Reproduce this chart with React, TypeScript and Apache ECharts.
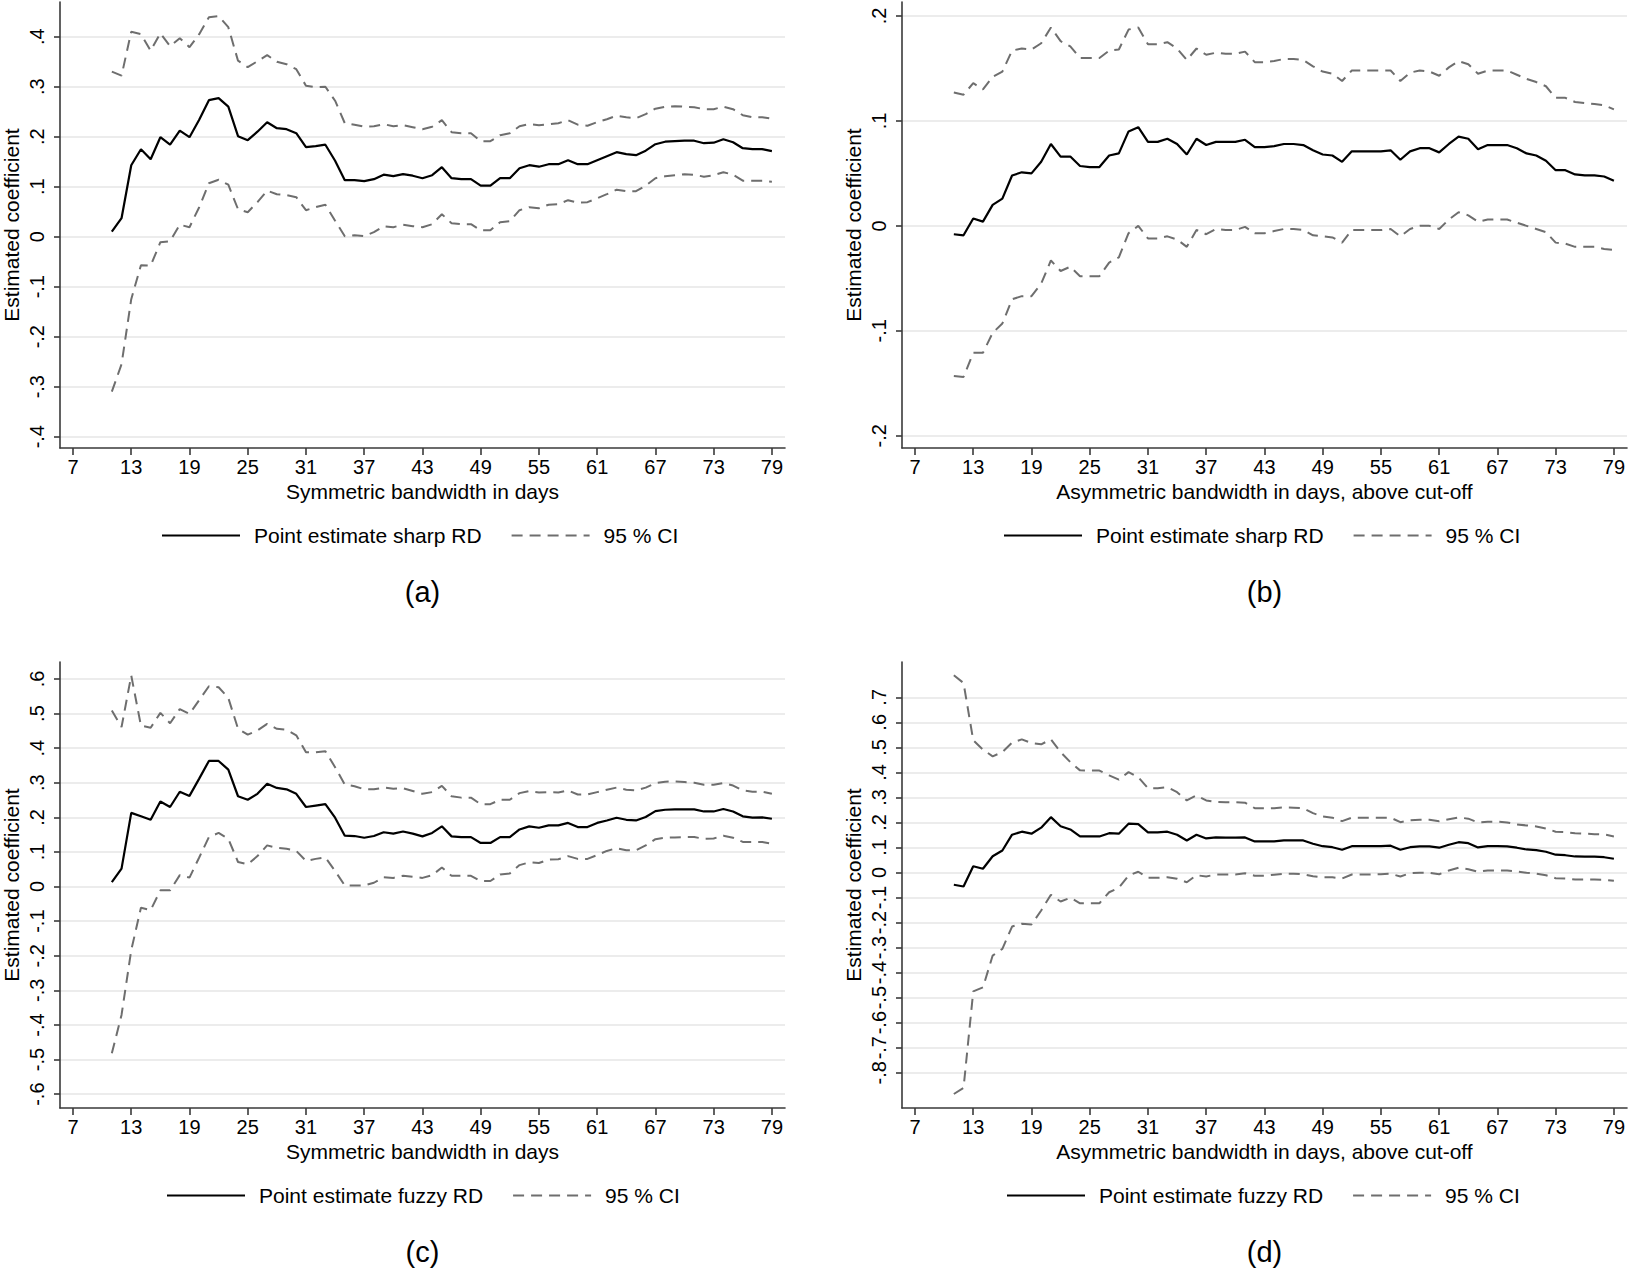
import React, { useEffect, useRef } from "react";
import * as echarts from "echarts";

const bandwidth = [11, 12, 13, 14, 15, 16, 17, 18, 19, 20, 21, 22, 23, 24, 25, 26, 27, 28, 29, 30, 31, 32, 33, 34, 35, 36, 37, 38, 39, 40, 41, 42, 43, 44, 45, 46, 47, 48, 49, 50, 51, 52, 53, 54, 55, 56, 57, 58, 59, 60, 61, 62, 63, 64, 65, 66, 67, 68, 69, 70, 71, 72, 73, 74, 75, 76, 77, 78, 79];
const xTicks = [7, 13, 19, 25, 31, 37, 43, 49, 55, 61, 67, 73, 79];
const yTicksA = [-0.4, -0.3, -0.2, -0.1, 0, 0.1, 0.2, 0.3, 0.4];
const yTicksB = [-0.2, -0.1, 0, 0.1, 0.2];
const yTicksC = [-0.6, -0.5, -0.4, -0.3, -0.2, -0.1, 0, 0.1, 0.2, 0.3, 0.4, 0.5, 0.6];
const yTicksD = [-0.8, -0.7, -0.6, -0.5, -0.4, -0.3, -0.2, -0.1, 0, 0.1, 0.2, 0.3, 0.4, 0.5, 0.6, 0.7];

// (a) sharp RD, symmetric bandwidth
const aPoint = [0.010, 0.037, 0.143, 0.175, 0.155, 0.199, 0.184, 0.212, 0.199, 0.234, 0.273, 0.277, 0.260, 0.201, 0.193, 0.210, 0.229, 0.217, 0.215, 0.207, 0.179, 0.181, 0.184, 0.152, 0.113, 0.113, 0.111, 0.115, 0.124, 0.121, 0.125, 0.122, 0.117, 0.123, 0.139, 0.117, 0.115, 0.115, 0.102, 0.102, 0.117, 0.117, 0.137, 0.143, 0.140, 0.145, 0.145, 0.153, 0.145, 0.145, 0.153, 0.161, 0.169, 0.165, 0.163, 0.172, 0.185, 0.190, 0.191, 0.192, 0.192, 0.187, 0.188, 0.195, 0.189, 0.177, 0.175, 0.175, 0.171];
const aUpper = [0.330, 0.322, 0.410, 0.405, 0.372, 0.407, 0.381, 0.397, 0.379, 0.405, 0.439, 0.441, 0.419, 0.352, 0.339, 0.351, 0.363, 0.350, 0.345, 0.335, 0.302, 0.299, 0.300, 0.272, 0.227, 0.224, 0.220, 0.221, 0.225, 0.221, 0.223, 0.219, 0.215, 0.220, 0.233, 0.209, 0.207, 0.207, 0.191, 0.191, 0.203, 0.207, 0.221, 0.225, 0.223, 0.225, 0.227, 0.233, 0.224, 0.222, 0.229, 0.235, 0.242, 0.239, 0.237, 0.245, 0.256, 0.260, 0.261, 0.260, 0.259, 0.255, 0.255, 0.260, 0.255, 0.243, 0.239, 0.239, 0.236];
const aLower = [-0.310, -0.255, -0.125, -0.057, -0.058, -0.011, -0.009, 0.024, 0.019, 0.059, 0.107, 0.114, 0.104, 0.055, 0.049, 0.069, 0.092, 0.085, 0.083, 0.079, 0.053, 0.059, 0.064, 0.032, 0.001, 0.003, 0.001, 0.009, 0.021, 0.019, 0.024, 0.021, 0.019, 0.025, 0.045, 0.027, 0.025, 0.025, 0.013, 0.013, 0.029, 0.031, 0.053, 0.059, 0.057, 0.064, 0.065, 0.073, 0.068, 0.069, 0.077, 0.085, 0.094, 0.091, 0.091, 0.102, 0.117, 0.121, 0.123, 0.125, 0.124, 0.120, 0.123, 0.129, 0.124, 0.112, 0.112, 0.112, 0.110];

// (b) sharp RD, asymmetric bandwidth
const bPoint = [-0.008, -0.009, 0.007, 0.004, 0.020, 0.026, 0.048, 0.051, 0.050, 0.061, 0.078, 0.066, 0.066, 0.057, 0.056, 0.056, 0.067, 0.069, 0.090, 0.094, 0.080, 0.080, 0.083, 0.078, 0.068, 0.083, 0.077, 0.080, 0.080, 0.080, 0.082, 0.075, 0.075, 0.076, 0.078, 0.078, 0.077, 0.072, 0.068, 0.067, 0.061, 0.071, 0.071, 0.071, 0.071, 0.072, 0.063, 0.071, 0.074, 0.074, 0.070, 0.078, 0.085, 0.083, 0.073, 0.077, 0.077, 0.077, 0.074, 0.069, 0.067, 0.062, 0.053, 0.053, 0.049, 0.048, 0.048, 0.047, 0.043];
const bUpper = [0.127, 0.125, 0.136, 0.130, 0.142, 0.147, 0.167, 0.169, 0.168, 0.174, 0.189, 0.176, 0.171, 0.160, 0.160, 0.160, 0.167, 0.168, 0.187, 0.189, 0.173, 0.173, 0.175, 0.169, 0.158, 0.169, 0.163, 0.165, 0.164, 0.164, 0.166, 0.156, 0.156, 0.157, 0.159, 0.159, 0.158, 0.152, 0.147, 0.145, 0.138, 0.148, 0.148, 0.148, 0.148, 0.148, 0.138, 0.146, 0.148, 0.147, 0.143, 0.151, 0.157, 0.154, 0.145, 0.148, 0.148, 0.148, 0.144, 0.140, 0.137, 0.133, 0.122, 0.122, 0.118, 0.117, 0.116, 0.115, 0.111];
const bLower = [-0.143, -0.144, -0.121, -0.121, -0.102, -0.093, -0.070, -0.067, -0.067, -0.055, -0.033, -0.043, -0.039, -0.048, -0.048, -0.048, -0.035, -0.030, -0.007, 0.000, -0.012, -0.012, -0.010, -0.013, -0.020, -0.004, -0.008, -0.003, -0.004, -0.004, -0.001, -0.007, -0.007, -0.005, -0.003, -0.003, -0.004, -0.009, -0.010, -0.011, -0.016, -0.004, -0.004, -0.004, -0.004, -0.003, -0.010, -0.003, 0.000, 0.000, -0.003, 0.006, 0.013, 0.010, 0.004, 0.006, 0.006, 0.006, 0.003, 0.000, -0.003, -0.006, -0.016, -0.017, -0.020, -0.020, -0.020, -0.022, -0.023];

// (c) fuzzy RD, symmetric bandwidth
const cPoint = [0.013, 0.052, 0.213, 0.203, 0.193, 0.246, 0.230, 0.274, 0.262, 0.312, 0.363, 0.363, 0.338, 0.261, 0.251, 0.268, 0.297, 0.285, 0.281, 0.268, 0.230, 0.234, 0.238, 0.199, 0.147, 0.146, 0.141, 0.146, 0.157, 0.153, 0.159, 0.153, 0.145, 0.155, 0.174, 0.145, 0.143, 0.143, 0.126, 0.126, 0.143, 0.143, 0.165, 0.174, 0.170, 0.177, 0.177, 0.184, 0.172, 0.172, 0.184, 0.191, 0.199, 0.193, 0.191, 0.201, 0.218, 0.222, 0.223, 0.223, 0.223, 0.217, 0.217, 0.224, 0.217, 0.203, 0.199, 0.200, 0.196];
const cUpper = [0.509, 0.461, 0.610, 0.465, 0.459, 0.502, 0.472, 0.513, 0.499, 0.539, 0.579, 0.576, 0.545, 0.456, 0.439, 0.451, 0.470, 0.456, 0.453, 0.437, 0.388, 0.388, 0.391, 0.345, 0.295, 0.290, 0.281, 0.281, 0.286, 0.283, 0.284, 0.276, 0.268, 0.273, 0.291, 0.261, 0.257, 0.257, 0.238, 0.238, 0.251, 0.251, 0.270, 0.276, 0.272, 0.273, 0.272, 0.278, 0.266, 0.266, 0.273, 0.280, 0.286, 0.280, 0.278, 0.286, 0.299, 0.303, 0.304, 0.302, 0.300, 0.294, 0.294, 0.299, 0.292, 0.278, 0.274, 0.274, 0.268];
const cLower = [-0.482, -0.371, -0.184, -0.061, -0.068, -0.011, -0.011, 0.033, 0.026, 0.084, 0.143, 0.155, 0.138, 0.071, 0.064, 0.088, 0.119, 0.112, 0.109, 0.103, 0.074, 0.080, 0.084, 0.045, 0.003, 0.003, 0.003, 0.011, 0.027, 0.025, 0.031, 0.028, 0.025, 0.033, 0.055, 0.031, 0.031, 0.031, 0.016, 0.016, 0.035, 0.038, 0.062, 0.070, 0.068, 0.078, 0.079, 0.088, 0.080, 0.080, 0.091, 0.103, 0.111, 0.105, 0.105, 0.119, 0.137, 0.141, 0.142, 0.143, 0.143, 0.138, 0.139, 0.147, 0.141, 0.129, 0.129, 0.129, 0.124];

// (d) fuzzy RD, asymmetric bandwidth
const dPoint = [-0.049, -0.056, 0.025, 0.015, 0.065, 0.088, 0.151, 0.163, 0.155, 0.179, 0.221, 0.185, 0.172, 0.144, 0.144, 0.144, 0.157, 0.155, 0.195, 0.193, 0.160, 0.160, 0.163, 0.151, 0.128, 0.151, 0.136, 0.140, 0.139, 0.139, 0.140, 0.124, 0.124, 0.124, 0.128, 0.128, 0.128, 0.115, 0.105, 0.101, 0.091, 0.105, 0.105, 0.105, 0.105, 0.107, 0.091, 0.101, 0.104, 0.104, 0.099, 0.111, 0.121, 0.117, 0.100, 0.105, 0.105, 0.104, 0.099, 0.092, 0.089, 0.083, 0.071, 0.069, 0.064, 0.063, 0.063, 0.061, 0.055];
const dUpper = [0.788, 0.757, 0.528, 0.491, 0.464, 0.481, 0.519, 0.532, 0.517, 0.512, 0.532, 0.481, 0.441, 0.408, 0.407, 0.407, 0.388, 0.371, 0.401, 0.381, 0.337, 0.337, 0.341, 0.321, 0.288, 0.308, 0.288, 0.282, 0.281, 0.281, 0.279, 0.257, 0.257, 0.257, 0.260, 0.259, 0.257, 0.237, 0.224, 0.219, 0.205, 0.219, 0.219, 0.219, 0.219, 0.219, 0.201, 0.209, 0.211, 0.211, 0.205, 0.213, 0.220, 0.215, 0.200, 0.203, 0.203, 0.200, 0.192, 0.188, 0.184, 0.176, 0.163, 0.161, 0.157, 0.155, 0.153, 0.152, 0.144];
const dLower = [-0.885, -0.861, -0.475, -0.459, -0.332, -0.305, -0.216, -0.205, -0.208, -0.152, -0.089, -0.116, -0.101, -0.123, -0.123, -0.123, -0.079, -0.061, -0.012, 0.003, -0.021, -0.021, -0.019, -0.025, -0.039, -0.011, -0.016, -0.008, -0.008, -0.008, -0.003, -0.013, -0.013, -0.009, -0.005, -0.005, -0.007, -0.015, -0.019, -0.019, -0.024, -0.008, -0.008, -0.008, -0.007, -0.005, -0.016, -0.003, -0.001, -0.001, -0.007, 0.008, 0.019, 0.013, 0.003, 0.008, 0.008, 0.008, 0.004, -0.001, -0.005, -0.011, -0.023, -0.024, -0.028, -0.028, -0.028, -0.029, -0.033];

const FONT = "'Liberation Sans', Arial, Helvetica, sans-serif";
const AXIS_COLOR = "#3a3a3a";
const CI_NAME = "95 % CI";

const fmt = (v: number) => {
  const r = Math.round(v * 10) / 10;
  if (r === 0) return "0";
  return String(r).replace("0.", ".");
};

const panels = [
  { left: 60, top: 2, yMin: -0.4226, yMax: 0.4694, yTicks: yTicksA, xName: "Symmetric bandwidth in days", pointName: "Point estimate sharp RD", point: aPoint, upper: aUpper, lower: aLower, legendLeft: 161, legendTop: 525, tag: "(a)", tagY: 592 },
  { left: 902, top: 2, yMin: -0.2117, yMax: 0.2133, yTicks: yTicksB, xName: "Asymmetric bandwidth in days, above cut-off", pointName: "Point estimate sharp RD", point: bPoint, upper: bUpper, lower: bLower, legendLeft: 1003, legendTop: 525, tag: "(b)", tagY: 592 },
  { left: 60, top: 662, yMin: -0.640, yMax: 0.649, yTicks: yTicksC, xName: "Symmetric bandwidth in days", pointName: "Point estimate fuzzy RD", point: cPoint, upper: cUpper, lower: cLower, legendLeft: 166, legendTop: 1185, tag: "(c)", tagY: 1252 },
  { left: 902, top: 662, yMin: -0.941, yMax: 0.841, yTicks: yTicksD, xName: "Asymmetric bandwidth in days, above cut-off", pointName: "Point estimate fuzzy RD", point: dPoint, upper: dUpper, lower: dLower, legendLeft: 1006, legendTop: 1185, tag: "(d)", tagY: 1252 },
];

const GRID_W = 725;
const GRID_H = 446;

function buildOption() {
  const grid: any[] = [];
  const xAxis: any[] = [];
  const yAxis: any[] = [];
  const series: any[] = [];
  const legend: any[] = [];
  const graphic: any[] = [];

  panels.forEach((p, i) => {
    grid.push({ left: p.left, top: p.top, width: GRID_W, height: GRID_H, outerBoundsMode: "none", containLabel: false });
    xAxis.push({
      gridIndex: i,
      type: "value",
      min: 5.66,
      max: 80.35,
      axisLine: { show: true, onZero: false, lineStyle: { color: AXIS_COLOR, width: 1.6 } },
      axisTick: { show: true, length: 7, customValues: xTicks, lineStyle: { color: AXIS_COLOR, width: 1.6 } },
      axisLabel: { customValues: xTicks, fontSize: 20, color: "#000", margin: 9, fontFamily: FONT },
      splitLine: { show: false },
      name: p.xName,
      nameLocation: "middle",
      nameGap: 33,
      nameMoveOverlap: false,
      nameTextStyle: { fontSize: 21, color: "#000", fontFamily: FONT },
    });
    yAxis.push({
      gridIndex: i,
      type: "value",
      min: p.yMin,
      max: p.yMax,
      axisLine: { show: true, onZero: false, lineStyle: { color: AXIS_COLOR, width: 1.6 } },
      axisTick: { show: true, length: 6, customValues: p.yTicks, lineStyle: { color: AXIS_COLOR, width: 1.6 } },
      axisLabel: { customValues: p.yTicks, rotate: 90, formatter: fmt, fontSize: 20, color: "#000", margin: 13, fontFamily: FONT },
      splitLine: { show: true, lineStyle: { color: "#e6e6e6", width: 1.5 } },
      name: "Estimated coefficient",
      nameLocation: "middle",
      nameGap: 38,
      nameMoveOverlap: false,
      nameTextStyle: { fontSize: 21, color: "#000", fontFamily: FONT },
    });
    series.push({
      type: "line",
      name: p.pointName,
      xAxisIndex: i,
      yAxisIndex: i,
      data: bandwidth.map((b, j) => [b, p.point[j]]),
      symbol: "none",
      silent: true,
      z: 4,
      lineStyle: { color: "#000", width: 2.2 },
      itemStyle: { color: "#000" },
    });
    series.push({
      type: "line",
      name: CI_NAME,
      xAxisIndex: i,
      yAxisIndex: i,
      data: bandwidth.map((b, j) => [b, p.upper[j]]),
      symbol: "none",
      silent: true,
      z: 3,
      lineStyle: { color: "#6e6e6e", width: 2, type: [11, 7] },
      itemStyle: { color: "#6e6e6e" },
    });
    series.push({
      type: "line",
      name: CI_NAME,
      xAxisIndex: i,
      yAxisIndex: i,
      data: bandwidth.map((b, j) => [b, p.lower[j]]),
      symbol: "none",
      silent: true,
      z: 3,
      lineStyle: { color: "#6e6e6e", width: 2, type: [11, 7] },
      itemStyle: { color: "#6e6e6e" },
    });
    legend.push({
      left: p.legendLeft,
      top: p.legendTop,
      orient: "horizontal",
      padding: 0,
      itemWidth: 78,
      itemHeight: 14,
      itemGap: 29,
      selectedMode: false,
      itemStyle: { opacity: 0 },
      data: [p.pointName, CI_NAME],
      textStyle: { fontSize: 21, color: "#000", fontFamily: FONT, padding: [0, 0, 0, 9] },
    });
    graphic.push({
      type: "text",
      x: p.left + GRID_W / 2,
      y: p.tagY,
      style: {
        text: p.tag,
        fontSize: 29,
        fontFamily: FONT,
        fill: "#000",
        align: "center",
        verticalAlign: "middle",
        textAlign: "center",
        textVerticalAlign: "middle",
      },
    });
  });

  return {
    animation: false,
    backgroundColor: "#ffffff",
    grid,
    xAxis,
    yAxis,
    series,
    legend,
    graphic,
  };
}

export default function App() {
  const ref = useRef<HTMLDivElement>(null);
  useEffect(() => {
    if (!ref.current) return;
    const chart = echarts.init(ref.current, undefined, { renderer: "svg" });
    chart.setOption(buildOption() as any);
    return () => {
      chart.dispose();
    };
  }, []);
  return (
    <div
      ref={ref}
      style={{ position: "absolute", left: 0, top: 0, width: 1630, height: 1273, background: "#fff" }}
    />
  );
}
